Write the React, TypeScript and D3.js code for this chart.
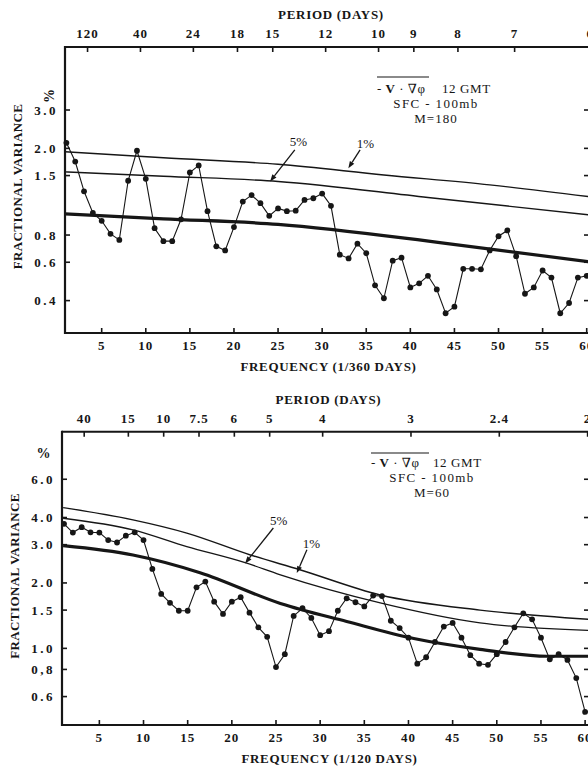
import React from "react";
import * as d3 from "d3";

const W = 588;
const H = 767;
const FONT = "'Liberation Serif', 'DejaVu Serif', serif";

// ---------- Upper panel (M=180) ----------
const upperValues = [
  2.12, 1.74, 1.27, 1.01, 0.93, 0.81, 0.76, 1.42, 1.95, 1.45,
  0.86, 0.75, 0.75, 0.945, 1.55, 1.67, 1.03, 0.71, 0.68, 0.87,
  1.14, 1.22, 1.12, 0.98, 1.06, 1.03, 1.035, 1.16, 1.18, 1.24,
  1.09, 0.65, 0.625, 0.73, 0.66, 0.47, 0.41, 0.61, 0.63, 0.46,
  0.48, 0.52, 0.45, 0.35, 0.375, 0.56, 0.56, 0.557, 0.68, 0.79,
  0.84, 0.64, 0.43, 0.46, 0.55, 0.51, 0.35, 0.39, 0.51, 0.52,
];
const upperFreqTicks = [5, 10, 15, 20, 25, 30, 35, 40, 45, 50, 55, 60];
const upperPeriodTicks = [120, 40, 24, 18, 15, 12, 10, 9, 8, 7, 6];
const upperPeriodLabels = ["120", "40", "24", "18", "15", "12", "10", "9", "8", "7", "6"];
const upperYTicks = [3.0, 2.0, 1.5, 0.8, 0.6, 0.4];
const upperYLabels = ["3.0", "2.0", "1.5", "0.8", "0.6", "0.4"];
const upper1pctFreq = [0.84, 12, 25, 37, 49, 60.3];
const upper1pctVal = [1.93, 1.81, 1.69, 1.51, 1.36, 1.2];
const upper5pctFreq = [0.84, 12, 25, 42, 60.3];
const upper5pctVal = [1.56, 1.49, 1.41, 1.19, 0.99];
const upperMeanFreq = [0.84, 12, 25, 44, 60.3];
const upperMeanVal = [1.0, 0.95, 0.896, 0.733, 0.603];

// ---------- Lower panel (M=60) ----------
const lowerValues = [
  3.74, 3.41, 3.61, 3.42, 3.41, 3.15, 3.07, 3.3, 3.42, 3.15,
  2.32, 1.78, 1.62, 1.49, 1.49, 1.91, 2.03, 1.64, 1.44, 1.64,
  1.72, 1.46, 1.25, 1.13, 0.82, 0.94, 1.41, 1.53, 1.38, 1.15,
  1.2, 1.49, 1.7, 1.63, 1.56, 1.75, 1.74, 1.34, 1.24, 1.12,
  0.85, 0.91, 1.07, 1.26, 1.31, 1.12, 0.93, 0.85, 0.84, 0.94,
  1.07, 1.25, 1.45, 1.36, 1.12, 0.89, 0.94, 0.885, 0.73, 0.51,
];
const lowerFreqTicks = [5, 10, 15, 20, 25, 30, 35, 40, 45, 50, 55, 60];
const lowerPeriodTicks = [40, 15, 10, 7.5, 6, 5, 4, 3, 2.4, 2];
const lowerPeriodLabels = ["40", "15", "10", "7.5", "6", "5", "4", "3", "2.4", "2"];
const lowerYTicks = [6.0, 4.0, 3.0, 2.0, 1.5, 1.0, 0.8, 0.6];
const lowerYLabels = ["6.0", "4.0", "3.0", "2.0", "1.5", "1.0", "0,8", "0.6"];
const lower1pctFreq = [0.9, 8.8, 14.9, 22.1, 27.7, 36.8, 48.1, 60.4];
const lower1pctVal = [4.44, 3.9, 3.39, 2.69, 2.3, 1.76, 1.5, 1.36];
const lower5pctFreq = [0.9, 8.8, 14.9, 21.5, 25.5, 36.8, 48.1, 60.4];
const lower5pctVal = [3.97, 3.51, 2.94, 2.48, 2.18, 1.62, 1.31, 1.21];
const lowerMeanFreq = [0.9, 8.8, 16.4, 25.5, 33, 40.6, 48.1, 55.7, 60.4];
const lowerMeanVal = [2.97, 2.69, 2.23, 1.61, 1.33, 1.11, 0.99, 0.92, 0.92];

type Cfg = {
  values: number[];
  freqTicks: number[];
  periodTicks: number[];
  periodLabels: string[];
  periodBase: number;
  yTicks: number[];
  yLabels: string[];
  c1f: number[]; c1v: number[];
  c5f: number[]; c5v: number[];
  cmf: number[]; cmv: number[];
  left: number; right: number; top: number; bottom: number;
  xDomain: [number, number];
  yDomain: [number, number];
  topShift: number;
  freqTitle: string;
  freqTitleX: number;
  periodTitleX: number;
  yTitleX: number; yTitleY: number;
  pct: { x: number; y: number; rot: boolean };
  lab5: { f: number; v: number; af: number; av: number; tf: number; tv: number };
  lab1: { f: number; v: number; af: number; av: number; tf: number; tv: number };
  note: { x1: number; x2: number; ol: number; y1: number; gmtX: number; cx: number; m: string };
};

const upperCfg: Cfg = {
  values: upperValues,
  freqTicks: upperFreqTicks,
  periodTicks: upperPeriodTicks,
  periodLabels: upperPeriodLabels,
  periodBase: 360,
  yTicks: upperYTicks,
  yLabels: upperYLabels,
  c1f: upper1pctFreq, c1v: upper1pctVal,
  c5f: upper5pctFreq, c5v: upper5pctVal,
  cmf: upperMeanFreq, cmv: upperMeanVal,
  left: 65, right: 589, top: 47, bottom: 333,
  xDomain: [0.84, 60.26],
  yDomain: [0.284, 5.84],
  topShift: 3.5,
  freqTitle: "FREQUENCY (1/360 DAYS)",
  freqTitleX: 328.5,
  periodTitleX: 331,
  yTitleX: 21.5, yTitleY: 186.5,
  pct: { x: 49, y: 96, rot: true },
  lab5: { f: 27.3, v: 2.06, af: 26.9, av: 1.97, tf: 24.1, tv: 1.41 },
  lab1: { f: 34.9, v: 2.01, af: 34.3, av: 1.97, tf: 32.97, tv: 1.62 },
  note: { x1: 377, x2: 429, ol: 77, y1: 93, gmtX: 442, cx: 436, m: "M=180" },
};

const lowerCfg: Cfg = {
  values: lowerValues,
  freqTicks: lowerFreqTicks,
  periodTicks: lowerPeriodTicks,
  periodLabels: lowerPeriodLabels,
  periodBase: 120,
  yTicks: lowerYTicks,
  yLabels: lowerYLabels,
  c1f: lower1pctFreq, c1v: lower1pctVal,
  c5f: lower5pctFreq, c5v: lower5pctVal,
  cmf: lowerMeanFreq, cmv: lowerMeanVal,
  left: 62, right: 589, top: 431.7, bottom: 725,
  xDomain: [0.77, 60.44],
  yDomain: [0.444, 9.93],
  topShift: 2.5,
  freqTitle: "FREQUENCY (1/120 DAYS)",
  freqTitleX: 329.5,
  periodTitleX: 328.5,
  yTitleX: 18.5, yTitleY: 576,
  pct: { x: 43.5, y: 458, rot: false },
  lab5: { f: 25.3, v: 3.7, af: 24.7, av: 3.58, tf: 21.5, tv: 2.46 },
  lab1: { f: 29.0, v: 2.9, af: 28.5, av: 2.84, tf: 27.35, tv: 2.22 },
  note: { x1: 371, x2: 429, ol: 453, y1: 467, gmtX: 433, cx: 432, m: "M=60" },
};

const INK = "#161616";

function Arrow({ x1, y1, x2, y2 }: { x1: number; y1: number; x2: number; y2: number }) {
  const ang = Math.atan2(y2 - y1, x2 - x1);
  const L = 7, Wd = 2.6;
  const bx = x2 - L * Math.cos(ang), by = y2 - L * Math.sin(ang);
  const px = -Math.sin(ang) * Wd, py = Math.cos(ang) * Wd;
  return (
    <g>
      <line x1={x1} y1={y1} x2={bx} y2={by} stroke={INK} strokeWidth={1.3} />
      <path d={`M${x2},${y2}L${bx + px},${by + py}L${bx - px},${by - py}Z`} fill={INK} />
    </g>
  );
}

function Panel({ cfg }: { cfg: Cfg }) {
  const x = d3.scaleLinear().domain(cfg.xDomain).range([cfg.left, cfg.right]);
  const xTop = d3.scaleLinear().domain(cfg.xDomain).range([cfg.left + cfg.topShift, cfg.right + cfg.topShift]);
  const y = d3.scaleLog().domain(cfg.yDomain).range([cfg.bottom, cfg.top]);
  const freqs = cfg.values.map((_, i) => i + 1);

  const dataPath = d3.line<number>().x((_, i) => x(freqs[i])).y((d) => y(d))(cfg.values) || "";
  const curve = (fs: number[], vs: number[]) =>
    d3.line<number>().curve(d3.curveMonotoneX).x((_, i) => x(fs[i])).y((d) => y(d))(vs) || "";

  const tickLen = 5;
  const labelStyle = { fontFamily: FONT, fontWeight: 700, fontSize: 13, fill: INK } as const;
  const n = cfg.note;

  return (
    <g>
      {/* threshold curves */}
      <path d={curve(cfg.c1f, cfg.c1v)} fill="none" stroke={INK} strokeWidth={1.4} />
      <path d={curve(cfg.c5f, cfg.c5v)} fill="none" stroke={INK} strokeWidth={1.4} />
      <path d={curve(cfg.cmf, cfg.cmv)} fill="none" stroke={INK} strokeWidth={3.2} />

      {/* data */}
      <path d={dataPath} fill="none" stroke={INK} strokeWidth={1.1} />
      {cfg.values.map((v, i) => (
        <circle key={i} cx={x(freqs[i])} cy={y(v)} r={2.9} fill={INK} />
      ))}

      {/* frame */}
      <line x1={cfg.left} y1={cfg.top} x2={cfg.right} y2={cfg.top} stroke={INK} strokeWidth={2} />
      <line x1={cfg.left} y1={cfg.bottom} x2={cfg.right} y2={cfg.bottom} stroke={INK} strokeWidth={2.2} />
      <line x1={cfg.left} y1={cfg.top - 1} x2={cfg.left} y2={cfg.bottom + 1} stroke={INK} strokeWidth={2.2} />
      <line x1={cfg.right} y1={cfg.top - 1} x2={cfg.right} y2={cfg.bottom + 1} stroke={INK} strokeWidth={2} />

      {/* bottom frequency ticks */}
      {cfg.freqTicks.map((t) => (
        <g key={"f" + t}>
          <line x1={x(t)} x2={x(t)} y1={cfg.bottom} y2={cfg.bottom - tickLen} stroke={INK} strokeWidth={1.6} />
          <text x={x(t)} y={cfg.bottom + 17} textAnchor="middle" style={labelStyle} letterSpacing={1}>
            {t}
          </text>
        </g>
      ))}

      {/* top period ticks */}
      {cfg.periodTicks.map((p, i) => (
        <g key={"p" + p}>
          <line
            x1={xTop(cfg.periodBase / p)}
            x2={xTop(cfg.periodBase / p)}
            y1={cfg.top}
            y2={cfg.top + tickLen}
            stroke={INK}
            strokeWidth={1.6}
          />
          <text x={xTop(cfg.periodBase / p)} y={cfg.top - 9} textAnchor="middle" style={labelStyle} letterSpacing={1}>
            {cfg.periodLabels[i]}
          </text>
        </g>
      ))}

      {/* y ticks */}
      {cfg.yTicks.map((t, i) => (
        <g key={"y" + t}>
          <line x1={cfg.left} x2={cfg.left + tickLen} y1={y(t)} y2={y(t)} stroke={INK} strokeWidth={1.6} />
          <line x1={cfg.right} x2={cfg.right - tickLen} y1={y(t)} y2={y(t)} stroke={INK} strokeWidth={1.6} />
          <text x={cfg.left - 7} y={y(t) + 4.5} textAnchor="end" style={labelStyle} letterSpacing={2.5}>
            {cfg.yLabels[i]}
          </text>
        </g>
      ))}

      {/* titles */}
      <text x={cfg.periodTitleX} y={cfg.top - 28} textAnchor="middle" style={labelStyle} letterSpacing={0.7}>
        PERIOD (DAYS)
      </text>
      <text x={cfg.freqTitleX} y={cfg.bottom + 38} textAnchor="middle" style={labelStyle} letterSpacing={0.7}>
        {cfg.freqTitle}
      </text>
      <text
        transform={`translate(${cfg.yTitleX},${cfg.yTitleY}) rotate(-90)`}
        textAnchor="middle"
        style={labelStyle}
        letterSpacing={0.4}
      >
        FRACTIONAL VARIANCE
      </text>
      <text
        transform={`translate(${cfg.pct.x},${cfg.pct.y}) rotate(${cfg.pct.rot ? -90 : 0})`}
        textAnchor="middle"
        style={{ ...labelStyle, fontSize: 14 }}
        dy={cfg.pct.rot ? 5 : 0}
      >
        %
      </text>

      {/* significance labels */}
      <text x={x(cfg.lab5.f)} y={y(cfg.lab5.v)} textAnchor="middle" style={{ ...labelStyle, fontWeight: 400, fontSize: 13 }}>
        5%
      </text>
      <Arrow x1={x(cfg.lab5.af)} y1={y(cfg.lab5.av)} x2={x(cfg.lab5.tf)} y2={y(cfg.lab5.tv)} />
      <text x={x(cfg.lab1.f)} y={y(cfg.lab1.v)} textAnchor="middle" style={{ ...labelStyle, fontWeight: 400, fontSize: 13 }}>
        1%
      </text>
      <Arrow x1={x(cfg.lab1.af)} y1={y(cfg.lab1.av)} x2={x(cfg.lab1.tf)} y2={y(cfg.lab1.tv)} />

      {/* note */}
      <line x1={n.x1} x2={n.x2} y1={n.ol} y2={n.ol} stroke={INK} strokeWidth={1.2} />
      <text x={n.x1} y={n.y1} style={{ fontFamily: FONT, fontSize: 13, fill: INK }} letterSpacing={0.5}>
        - <tspan fontWeight={700}>V</tspan> · ∇φ
      </text>
      <text x={n.gmtX} y={n.y1} style={{ fontFamily: FONT, fontSize: 13, fill: INK }} letterSpacing={0.6}>
        12 GMT
      </text>
      <text x={n.cx} y={n.y1 + 14.5} textAnchor="middle" style={{ fontFamily: FONT, fontSize: 13, fill: INK }} letterSpacing={1.4}>
        SFC - 100mb
      </text>
      <text x={n.cx} y={n.y1 + 29.5} textAnchor="middle" style={{ fontFamily: FONT, fontSize: 13, fill: INK }} letterSpacing={1}>
        {n.m}
      </text>
    </g>
  );
}

export default function App() {
  return (
    <svg
      width={W}
      height={H}
      viewBox={`0 0 ${W} ${H}`}
      style={{ position: "absolute", left: 0, top: 0, background: "#fff" }}
    >
      <rect x={0} y={0} width={W} height={H} fill="#fff" />
      <Panel cfg={upperCfg} />
      <Panel cfg={lowerCfg} />
    </svg>
  );
}
